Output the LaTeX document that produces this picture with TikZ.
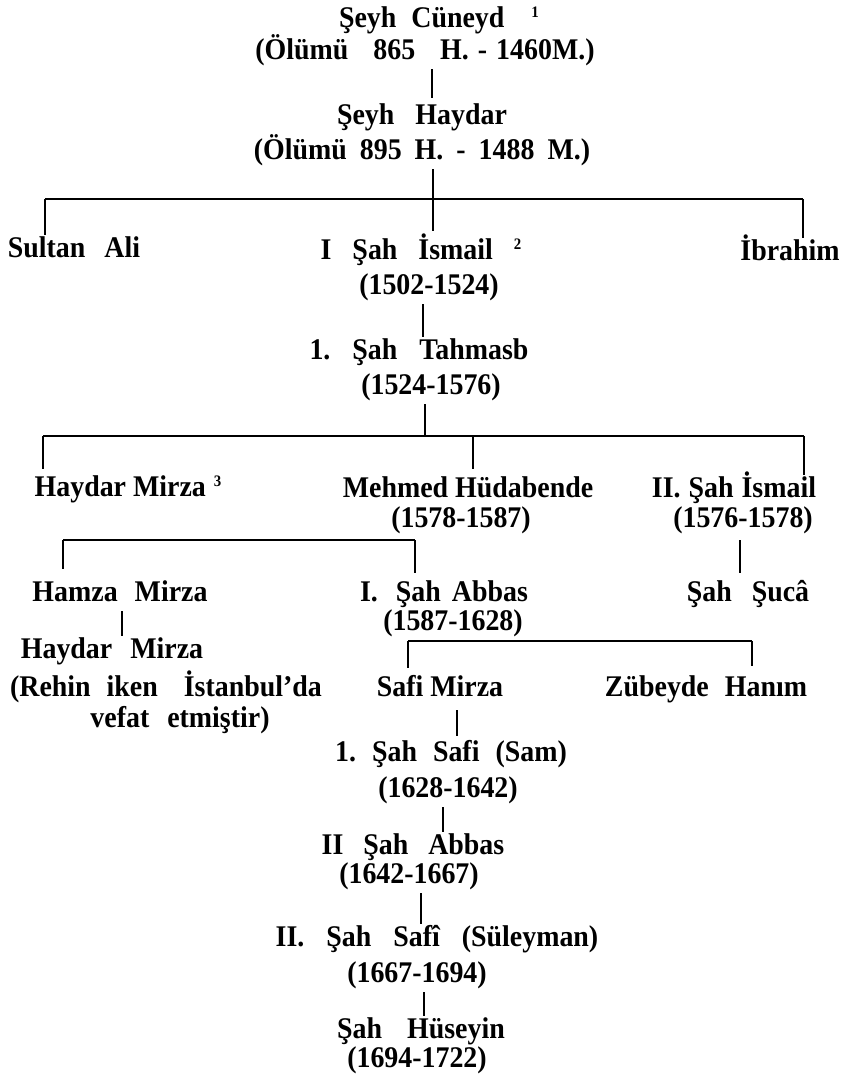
\documentclass[tikz,border=0pt]{standalone}
\usepackage{fontspec}
\setmainfont{Liberation Serif}[FakeStretch=0.93]
\newcommand{\hgap}[1]{\hspace*{#1pt}}
\newcommand{\supnum}[1]{\raisebox{10pt}{\fontsize{16}{16}\selectfont #1}}
\begin{document}
\begin{tikzpicture}[x=1pt,y=-1pt,
  lbl/.style={font=\fontsize{30}{32}\selectfont\bfseries, inner xsep=0pt, inner ysep=2pt, text height=21pt, text depth=7.5pt},
  bus/.style={line width=1.7pt},
  link/.style={line width=1.2pt}]
\useasboundingbox[fill=white] (0,0) rectangle (843,1076);

% ---- nodes ----
\node[lbl] (cuneyd)   at (439,21)  {Şeyh\hgap{15}Cüneyd\hgap{27}\supnum{1}};
\node[lbl] (cuneydD)  at (425,53)  {(Ölümü\hgap{25}865\hgap{25}H.\hgap{9}-\hgap{9}1460M.)};
\node[lbl] (haydar)   at (422,118) {Şeyh\hgap{21}Haydar};
\node[lbl] (haydarD)  at (422,153) {(Ölümü\hgap{13}895\hgap{13}H.\hgap{13}-\hgap{13}1488\hgap{13}M.)};
\node[lbl] (sultan)   at (74,251)  {Sultan\hgap{19}Ali};
\node[lbl] (ismail1)  at (421,253) {I\hgap{21}Şah\hgap{21}İsmail\hgap{21}\supnum{2}};
\node[lbl] (ibrahim)  at (790,254) {İbrahim};
\node[lbl] (ismail1D) at (429,288) {(1502-1524)};
\node[lbl] (tahmasb)  at (419,353) {1.\hgap{22}Şah\hgap{22}Tahmasb};
\node[lbl] (tahmasbD) at (431,388) {(1524-1576)};
\node[lbl] (hmirza)   at (128,490) {Haydar Mirza\hgap{8}\supnum{3}};
\node[lbl] (mehmed)   at (468,491) {Mehmed Hüdabende};
\node[lbl] (ismail2)  at (734,491) {II.\hgap{8}Şah\hgap{8}İsmail};
\node[lbl] (mehmedD)  at (461,521) {(1578-1587)};
\node[lbl] (ismail2D) at (743,521) {(1576-1578)};
\node[lbl] (hamza)    at (120,595) {Hamza\hgap{17}Mirza};
\node[lbl] (abbas1)   at (444,595) {I.\hgap{18}Şah\hgap{11}Abbas};
\node[lbl] (suca)     at (748,595) {Şah\hgap{20}Şucâ};
\node[lbl] (abbas1D)  at (453,624) {(1587-1628)};
\node[lbl] (hmirza2)  at (112,652) {Haydar\hgap{18}Mirza};
\node[lbl] (rehin)    at (166,690) {(Rehin\hgap{16}iken\hgap{26}İstanbul’da};
\node[lbl] (vefat)    at (180,721) {vefat\hgap{18}etmiştir)};
\node[lbl] (safimirza) at (440,690) {Safi Mirza};
\node[lbl] (zubeyde)  at (706,690) {Zübeyde\hgap{16}Hanım};
\node[lbl] (safi1)    at (451,755) {1.\hgap{16}Şah\hgap{16}Safi\hgap{16}(Sam)};
\node[lbl] (safi1D)   at (448,791) {(1628-1642)};
\node[lbl] (abbas2)   at (413,848) {II\hgap{20}Şah\hgap{20}Abbas};
\node[lbl] (abbas2D)  at (409,877) {(1642-1667)};
\node[lbl] (safi2)    at (437,940) {II.\hgap{22}Şah\hgap{22}Safî\hgap{22}(Süleyman)};
\node[lbl] (safi2D)   at (417,976) {(1667-1694)};
\node[lbl] (huseyin)  at (421,1032) {Şah\hgap{25}Hüseyin};
\node[lbl] (huseyinD) at (417,1061) {(1694-1722)};

% ---- junction coordinates ----
\coordinate (c1) at (432,0);
\coordinate (b1l) at (45,199);
\coordinate (b1m) at (433,199);
\coordinate (b1r) at (803,199);
\coordinate (c2) at (423,0);
\coordinate (b2l) at (43,436);
\coordinate (b2m) at (425,436);
\coordinate (b2d) at (473,436);
\coordinate (b2r) at (804,436);
\coordinate (b3l) at (63,540);
\coordinate (b3r) at (415,540);
\coordinate (c3) at (740,0);
\coordinate (c4) at (122,0);
\coordinate (b4l) at (408,641);
\coordinate (b4r) at (752,641);
\coordinate (c5) at (457,0);
\coordinate (c6) at (443,0);
\coordinate (c7) at (421,0);
\coordinate (c8) at (424,0);

% ---- connectors ----
\draw[link, shorten >=4pt] (cuneydD.south -| c1) -- (haydar.north -| c1);
\draw[link] (haydarD.south -| b1m) -- (b1m);
\draw[bus] (b1l) -- (b1r);
\draw[link] (b1l) -- (sultan.north -| b1l);
\draw[link, shorten >=6pt] (b1m) -- (ismail1.north -| b1m);
\draw[link] (b1r) -- (ibrahim.north -| b1r);

\draw[link] (ismail1D.south -| c2) -- (tahmasb.north -| c2);
\draw[link] (tahmasbD.south -| b2m) -- (b2m);
\draw[bus] (b2l) -- (b2r);
\draw[link, shorten >=5pt] (b2l) -- (hmirza.north -| b2l);
\draw[link, shorten >=6pt] (b2d) -- (mehmed.north -| b2d);
\draw[link] (b2r) -- (ismail2.north -| b2r);

\draw[bus] (b3l) -- (b3r);
\draw[link, shorten >=10pt] (b3l) -- (hamza.north -| b3l);
\draw[link, shorten >=6pt] (b3r) -- (abbas1.north -| b3r);
\draw[link, shorten <=3pt, shorten >=6pt] (ismail2D.south -| c3) -- (suca.north -| c3);

\draw[link] (hamza.south -| c4) -- (hmirza2.north -| c4);

\draw[bus] (b4l) -- (b4r);
\draw[link, shorten >=6pt] (b4l) -- (safimirza.north -| b4l);
\draw[link, shorten >=8pt] (b4r) -- (zubeyde.north -| b4r);

\draw[link, shorten <=4pt, shorten >=3pt] (safimirza.south -| c5) -- (safi1.north -| c5);
\draw[link] (safi1D.south -| c6) -- (abbas2.north -| c6);
\draw[link] (abbas2D.south -| c7) -- (safi2.north -| c7);
\draw[link] (safi2D.south -| c8) -- (huseyin.north -| c8);
\end{tikzpicture}
\end{document}
